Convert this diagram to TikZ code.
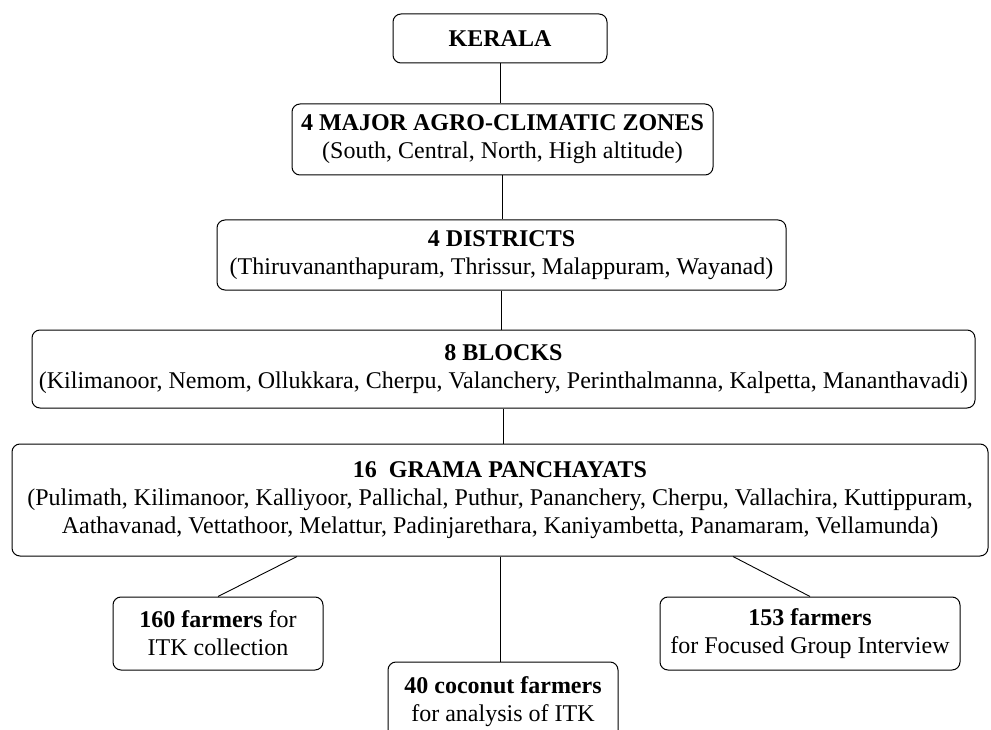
\documentclass[tikz,border=0pt]{standalone}
\usepackage{fontspec}
\setmainfont{Liberation Serif}
\begin{document}
\begin{tikzpicture}
  [x=1pt,y=-1pt,every node/.style={draw,rounded corners=8pt,align=center,inner sep=0pt,line width=1pt,font=\fontsize{24}{28}\selectfont}]
\useasboundingbox (0,0) rectangle (991,730);
\node (kerala)[minimum width=214,minimum height=49] at (500,38.5) {\textbf{KERALA}};
  \node (zones)[minimum width=421,minimum height=71] at (502.5,139.5) {\textbf{4 MAJOR AGRO-CLIMATIC ZONES}\\(South, Central, North, High altitude)};
  \node (districts)[minimum width=569,minimum height=70] at (501.5,255) {\textbf{4 DISTRICTS}\\(Thiruvananthapuram, Thrissur, Malappuram, Wayanad)};
  \node (blocks)[minimum width=943,minimum height=78] at (503.5,369) {\textbf{8 BLOCKS}\\(Kilimanoor, Nemom, Ollukkara, Cherpu, Valanchery, Perinthalmanna, Kalpetta, Mananthavadi)};
  \node (grama)[minimum width=976,minimum height=112] at (500,500) {\textbf{16\ \ GRAMA PANCHAYATS}\\(Pulimath, Kilimanoor, Kalliyoor, Pallichal, Puthur, Pananchery, Cherpu, Vallachira, Kuttippuram,\\Aathavanad, Vettathoor, Melattur, Padinjarethara, Kaniyambetta, Panamaram, Vellamunda)};
  \node (itk)[minimum width=210,minimum height=73] at (218,633.5) {\textbf{160 farmers} for\\ITK collection};
  \node (coconut)[minimum width=230,minimum height=80] at (503,702) {\textbf{40 coconut farmers}\\for analysis of ITK};
  \node (fgi)[minimum width=300,minimum height=73] at (810,633.5) {\textbf{153 farmers}\\for Focused Group Interview};
 \coordinate (gl) at ([xshift=-203]grama.south);
 \coordinate (gr) at ([xshift=233]grama.south);
 \foreach \from/\to in {kerala/zones,zones/districts,districts/blocks,blocks/grama,grama/coconut}
    \draw[line width=0.9pt] (\from.south) -- (\from.south |- \to.north);
 \draw[line width=0.9pt] (gl) -- (itk.north);
 \draw[line width=0.9pt] (gr) -- (fgi.north);

\end{tikzpicture}
\end{document}
